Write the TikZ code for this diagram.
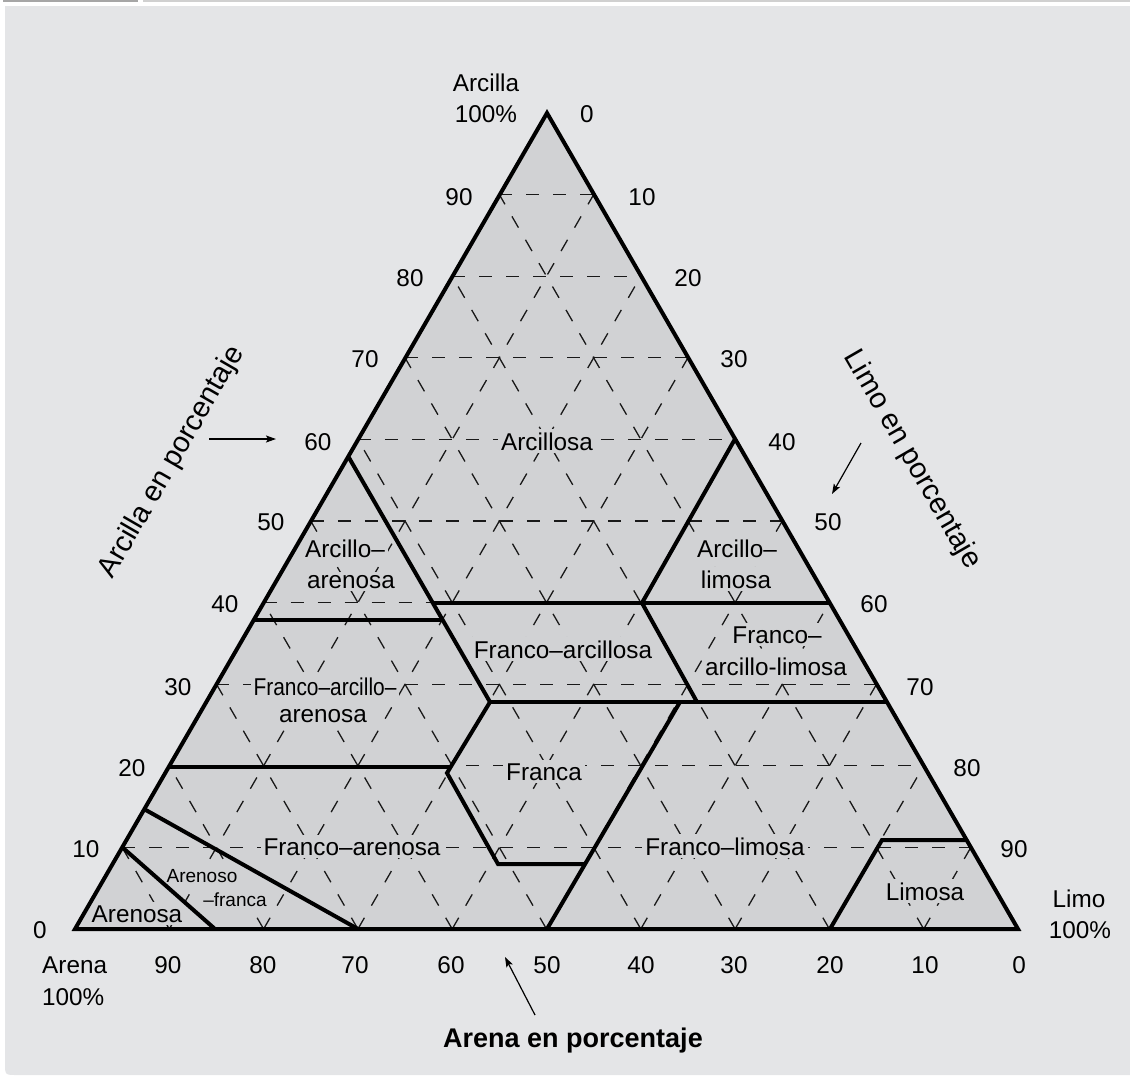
\documentclass[tikz,border=0pt]{standalone}
\usepackage{fontspec}
\setmainfont{Liberation Sans}
\usetikzlibrary{arrows.meta}

\definecolor{panel}{HTML}{E4E5E7}
\definecolor{tri}{HTML}{D1D2D4}
\definecolor{topdark}{HTML}{A6A6A6}
\definecolor{toplight}{HTML}{D0D0D0}

\begin{document}
\begin{tikzpicture}[x=1pt,y=-1pt,
  lbl/.style={font=\fontsize{24.3}{28}\selectfont, inner sep=0pt, anchor=base},
  reg/.style={lbl, fill=tri, inner sep=3pt},
  smallreg/.style={reg, font=\fontsize{19}{22}\selectfont, inner sep=2pt},
  axtitle/.style={font=\fontsize{29}{32}\selectfont, inner sep=0pt},
  gridline/.style={line width=1.3pt, dash pattern=on 13pt off 14pt, draw=black!90},
  bound/.style={line width=4pt, line join=miter},
  pointer/.style={line width=1.2pt, -{Stealth[length=10pt,width=7pt,inset=2pt]}}]

\useasboundingbox (0,0) rectangle (1130,1077);

% panel and the thin rules along the top
\fill[panel] (5,6) -- (5,1063) .. controls (5,1075) .. (17,1075) -- (1135,1075) -- (1135,6) -- cycle;
\draw[topdark, line width=2pt] (3,1) -- (138,1);
\draw[toplight, line width=2pt] (143,1) -- (1130,1);

% triangle corners
\coordinate (A) at (75,929);
\coordinate (B) at (1018,929);
\coordinate (C) at (547,113);
\fill[tri] (A) -- (B) -- (C) -- cycle;

% dashed 10 % grid, in (silt, clay) coordinates
\begin{scope}[shift={(75,929)}, x={(9.43pt,0pt)}, y={(4.715pt,8.16pt)}]
  \foreach \k in {10,20,...,90}{
    \pgfmathtruncatemacro\m{100-\k}
    \draw[gridline] (0,\k) -- (\m,\k);
    \draw[gridline] (\k,0) -- (\k,\m);
    \draw[gridline] (\m,0) -- (0,\m);
  }
\end{scope}

% texture class names
\node[reg] (arcillosa) at (547,450) {Arcillosa};
\node[reg] (arcaren1) at (345,557) {Arcillo–};
\node[reg] (arcaren2) at (351,588) {arenosa};
\node[reg] (arclim1) at (737,557) {Arcillo–};
\node[reg] (arclim2) at (736,588) {limosa};
\node[reg] (franarc) at (563,658) {Franco–arcillosa};
\node[reg] (frarlim1) at (777,643) {Franco–};
\node[reg] (frarlim2) at (776,675) {arcillo-limosa};
\node[reg] (frarar1) at (325,695) {\scalebox{0.86}[1]{Franco–arcillo–}};
\node[reg] (frarar2) at (323,722) {arenosa};
\node[reg] (franca) at (544,780) {Franca};
\node[reg] (franaren) at (352,855) {Franco–arenosa};
\node[reg] (franlim) at (725,855) {Franco–limosa};
\node[smallreg] (arenoso1) at (202,882) {Arenoso};
\node[smallreg] (arenoso2) at (235,906) {–franca};
\node[reg] (arenosa) at (137,922) {Arenosa};
\node[reg] (limosa) at (925,900) {Limosa};

% class boundaries
\draw[bound] (348,456) -- (490,702);
\draw[bound] (433,603) -- (829,603);
\draw[bound] (253,620) -- (443,620);
\draw[bound] (735,439) -- (642,603) -- (697,702);
\draw[bound] (490,702) -- (887,702);
\draw[bound] (490,702) -- (447,773) -- (498,864) -- (585,864);
\draw[bound] (680,702) -- (547,929);
\draw[bound] (168,767) -- (449,767);
\draw[bound] (144,809) -- (358,929);
\draw[bound] (122,847) -- (215,929);
\draw[bound] (967,840) -- (882,840) -- (830,929);

% outline
\draw[bound] (A) -- (B) -- (C) -- cycle;

% clay scale (left side)
\node[lbl] (cl100a) at (486,91) {Arcilla};
\node[lbl] (cl100b) at (486,122) {100\%};
\node[lbl] (cl90) at (459,205) {90};
\node[lbl] (cl80) at (410,286) {80};
\node[lbl] (cl70) at (365,367) {70};
\node[lbl] (cl60) at (318,450) {60};
\node[lbl] (cl50) at (271,530) {50};
\node[lbl] (cl40) at (225,612) {40};
\node[lbl] (cl30) at (178,695) {30};
\node[lbl] (cl20) at (132,776) {20};
\node[lbl] (cl10) at (86,857) {10};
\node[lbl] (cl0) at (40,938) {0};

% silt scale (right side)
\node[lbl] (si0) at (587,122) {0};
\node[lbl] (si10) at (642,205) {10};
\node[lbl] (si20) at (688,286) {20};
\node[lbl] (si30) at (734,367) {30};
\node[lbl] (si40) at (782,450) {40};
\node[lbl] (si50) at (828,530) {50};
\node[lbl] (si60) at (874,612) {60};
\node[lbl] (si70) at (920,695) {70};
\node[lbl] (si80) at (967,776) {80};
\node[lbl] (si90) at (1014,857) {90};
\node[lbl] (si100a) at (1079,907) {Limo};
\node[lbl] (si100b) at (1080,938) {100\%};

% sand scale (bottom)
\node[lbl, anchor=base west] (sa100a) at (42,973) {Arena};
\node[lbl, anchor=base west] (sa100b) at (42,1005) {100\%};
\node[lbl] (sa90) at (168,973) {90};
\node[lbl] (sa80) at (263,973) {80};
\node[lbl] (sa70) at (355,973) {70};
\node[lbl] (sa60) at (451,973) {60};
\node[lbl] (sa50) at (547,973) {50};
\node[lbl] (sa40) at (641,973) {40};
\node[lbl] (sa30) at (734,973) {30};
\node[lbl] (sa20) at (830,973) {20};
\node[lbl] (sa10) at (925,973) {10};
\node[lbl] (sa0) at (1019,973) {0};

% axis titles and their pointers
\node[axtitle, rotate=60] (clayaxis) at (172,462) {Arcilla en porcentaje};
\node[axtitle, rotate=-60] (siltaxis) at (912,460) {Limo en porcentaje};
\node[axtitle, font=\fontsize{27}{30}\selectfont\bfseries, anchor=base] (sandaxis) at (573,1047) {Arena en porcentaje};

\coordinate (pc1) at (209,439);
\coordinate (pc2) at (276,439);
\draw[pointer] (pc1) -- (pc2);
\coordinate (ps1) at (861,443);
\coordinate (ps2) at (832,494);
\draw[pointer] (ps1) -- (ps2);
\coordinate (pa1) at (535,1015);
\coordinate (pa2) at (505,957);
\draw[pointer] (pa1) -- (pa2);
\end{tikzpicture}
\end{document}
